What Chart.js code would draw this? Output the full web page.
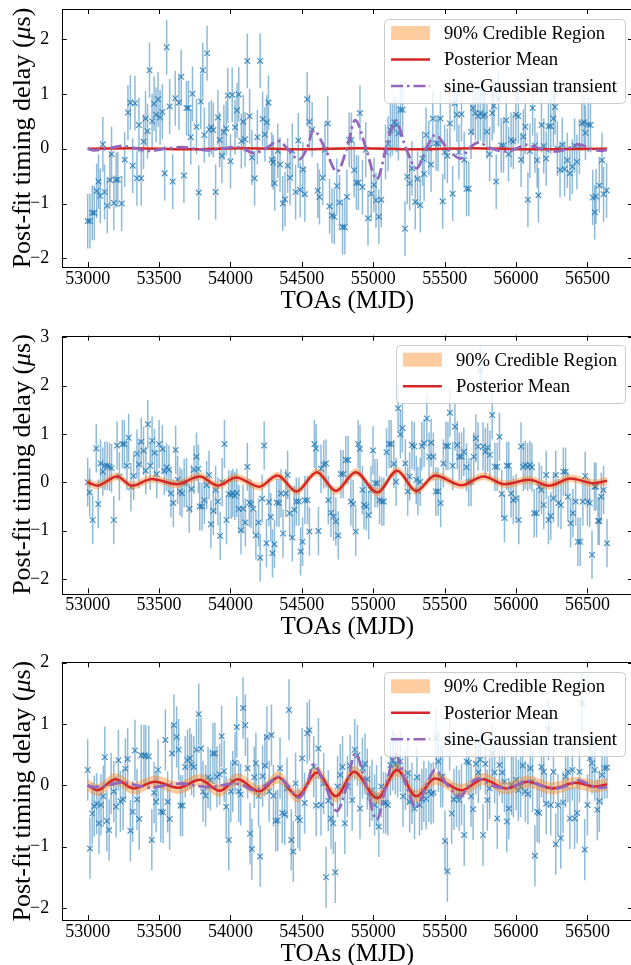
<!DOCTYPE html>
<html>
<head>
<meta charset="utf-8">
<script src="https://cdn.jsdelivr.net/npm/chart.js@4.4.1/dist/chart.umd.min.js"></script>
<style>
  html, body { margin: 0; padding: 0; background: #fff; width: 631px; height: 965px; overflow: hidden; position: relative; }
  canvas { position: absolute; left: 0; }
</style>
</head>
<body>
<canvas id="panel1" width="640" height="320" style="top:0px"></canvas>
<canvas id="panel2" width="640" height="320" style="top:320px"></canvas>
<canvas id="panel3" width="640" height="325" style="top:640px"></canvas>
<script>
// ---- shared axis values ----
const xTicks = [53000, 53500, 54000, 54500, 55000, 55500, 56000, 56500];
const xRange = [52818, 56819];

// sine-Gaussian transient (same injected curve in panels 1 and 3)
const sgToa = [53000, 53044, 53140, 53240, 53340, 53437, 53545, 53657, 53750, 53843, 53935, 54028, 54090, 54160,
  54245, 54335, 54400, 54478, 54535, 54581, 54663, 54745, 54815, 54873, 54950, 55024, 55090, 55155, 55230, 55304,
  55370, 55433, 55520, 55610, 55670, 55734, 55830, 55931, 56000, 56069, 56170, 56278, 56360, 56440, 56520, 56600, 56637];
const sgDelay = [0.0, -0.03, 0.0, 0.05, 0.0, -0.04, 0.0, 0.03, 0.0, -0.03, 0.0, 0.03, 0.0, -0.08,
  0.0, 0.14, 0.0, -0.2, 0.0, 0.34, 0.0, -0.42, 0.0, 0.52, 0.0, -0.56, 0.0, 0.51, 0.0, -0.36,
  0.0, 0.25, 0.0, -0.18, 0.0, 0.11, 0.0, -0.05, 0.0, 0.07, 0.0, -0.05, 0.0, 0.08, 0.0, -0.04, -0.02];

// ---- panel 1 ----
const toaP1 = [53000, 53016, 53032, 53046, 53063, 53076, 53088, 53106, 53118, 53137, 53155, 53167, 53183, 53199, 53211,
  53238, 53259, 53282, 53299, 53315, 53331, 53345, 53359, 53375, 53391, 53405, 53419, 53433, 53451, 53465, 53479,
  53493, 53507, 53523, 53539, 53553, 53574, 53595, 53613, 53639, 53655, 53674, 53692, 53706, 53722, 53734, 53762,
  53778, 53792, 53806, 53817, 53836, 53850, 53866, 53880, 53896, 53912, 53924, 53940, 53954, 53970, 53981, 54000,
  54012, 54032, 54046, 54058, 54076, 54090, 54102, 54118, 54134, 54150, 54169, 54188, 54208, 54225, 54241, 54255,
  54266, 54289, 54299, 54310, 54331, 54347, 54366, 54382, 54400, 54417, 54433, 54456, 54475, 54488, 54507, 54521,
  54537, 54553, 54572, 54611, 54623, 54646, 54662, 54681, 54694, 54711, 54727, 54745, 54764, 54785, 54801, 54815,
  54831, 54847, 54866, 54882, 54896, 54907, 54924, 54947, 54963, 54986, 55005, 55019, 55039, 55056, 55086, 55104,
  55120, 55134, 55148, 55162, 55176, 55190, 55206, 55222, 55238, 55255, 55271, 55294, 55310, 55329, 55345, 55356,
  55370, 55389, 55405, 55417, 55440, 55454, 55470, 55486, 55500, 55519, 55537, 55556, 55569, 55586, 55600, 55618,
  55637, 55653, 55669, 55685, 55699, 55715, 55734, 55750, 55769, 55780, 55796, 55815, 55833, 55845, 55861, 55877,
  55896, 55912, 55931, 55947, 55965, 55981, 55998, 56016, 56035, 56051, 56065, 56083, 56097, 56116, 56132, 56148,
  56157, 56178, 56194, 56211, 56227, 56243, 56262, 56273, 56289, 56308, 56324, 56340, 56359, 56377, 56394, 56410,
  56426, 56444, 56461, 56477, 56486, 56505, 56521, 56537, 56551, 56560, 56583, 56602, 56613, 56634];
const resP1 = [-1.32, -1.32, -1.17, -1.17, -0.77, -0.6, -0.86, 0.08, -0.79, -1.04, -0.57, -0.1, -0.99, -0.57, -0.56,
  -1.0, -0.2, 0.66, 0.84, -0.31, 0.83, -0.54, 0.43, -0.54, 0.13, 0.55, 0.32, 1.43, 0.5, 0.82, 0.62,
  0.9, 0.57, 0.67, -0.45, 1.85, 0.77, -0.6, 0.92, 0.84, 1.31, -0.49, 0.74, 0.74, 0.21, 1.0, 0.4,
  -0.8, 0.86, 1.43, 0.25, 1.74, 0.35, 0.39, 0.34, -0.79, 0.57, 0.16, -0.13, 0.3, 0.37, 0.97, -0.23,
  0.98, 0.39, 0.7, 0.99, 0.14, 0.49, 0.17, 1.6, 0.59, -0.16, -0.54, 0.21, 1.6, 0.54, 0.26, 0.48,
  0.84, -0.2, -0.25, -0.63, -0.04, -0.29, -1.0, -0.92, -0.31, -0.53, -0.04, -0.79, 0.15, -0.75, -0.38, -0.83,
  0.9, 0.49, 0.35, -0.76, -0.88, -0.53, -0.02, 0.46, -1.05, -1.22, -1.24, -0.68, -0.98, -1.43, -1.43, -0.88,
  0.16, 0.16, -0.39, -0.62, -0.62, 0.65, -0.7, -0.02, -1.27, -0.82, -0.66, -0.94, -1.24, -0.93, -0.06, 0.09,
  0.34, 0.38, 0.48, 0.43, 0.28, 0.71, 0.71, -1.46, -0.51, -0.63, -0.36, -0.97, -0.55, -1.03, -0.18, -0.46,
  0.25, 0.01, -0.29, 0.55, 0.1, 0.09, 0.55, -0.96, -0.06, -0.13, 0.46, -0.82, 0.83, 0.62, -0.06, 0.63,
  -0.2, -0.73, -0.73, 0.31, 0.74, 0.65, 0.59, 0.65, 0.59, 0.62, 0.31, -0.1, 0.65, 0.78, -0.6, 0.91,
  0.06, 0.06, 0.52, -0.1, 0.16, 0.13, 0.62, 0.59, -0.2, 0.22, 0.4, -0.93, -0.04, 0.74, 0.06, -0.21,
  -0.85, 0.43, 0.05, -0.18, 0.41, 0.41, 0.55, 0.76, 0.0, -0.39, 0.07, -0.37, -0.21, -0.45, -0.33, 0.05,
  -0.24, 0.04, 0.46, 0.48, 0.29, 0.44, 0.43, -0.89, -1.16, -0.87, -0.67, -0.21, -0.83, -0.76];
const errP1 = 0.5;
const meanToaP1 = [53000, 53300, 53700, 54100, 54500, 54900, 55300, 55700, 56100, 56637];
const meanP1 = [0.0, 0.01, -0.01, 0.01, -0.01, 0.01, -0.01, 0.01, -0.01, 0.0];
const bandP1 = 0.02;
const yTicksP1 = [-2, -1, 0, 1, 2];
const yRangeP1 = [-2.157, 2.547];

// ---- panel 2 ----
const toaP2 = [53000, 53014, 53035, 53060, 53074, 53090, 53106, 53120, 53137, 53153, 53167, 53183, 53206, 53222, 53243,
  53257, 53275, 53287, 53303, 53322, 53345, 53359, 53375, 53391, 53407, 53421, 53438, 53451, 53468, 53484, 53500,
  53523, 53537, 53553, 53569, 53583, 53600, 53616, 53630, 53646, 53660, 53676, 53692, 53711, 53727, 53745, 53762,
  53775, 53785, 53801, 53817, 53833, 53850, 53863, 53880, 53896, 53912, 53928, 53942, 53958, 53972, 53988, 54005,
  54016, 54030, 54044, 54058, 54074, 54088, 54104, 54118, 54132, 54144, 54160, 54178, 54197, 54208, 54222, 54236,
  54252, 54269, 54282, 54294, 54308, 54324, 54340, 54354, 54368, 54387, 54400, 54414, 54433, 54447, 54461, 54479,
  54491, 54505, 54521, 54539, 54553, 54588, 54600, 54616, 54634, 54653, 54669, 54685, 54704, 54722, 54738, 54755,
  54773, 54789, 54808, 54824, 54843, 54859, 54877, 54894, 54907, 54924, 54935, 54951, 54968, 54984, 54998, 55012,
  55028, 55044, 55060, 55074, 55093, 55111, 55125, 55144, 55160, 55174, 55190, 55204, 55225, 55241, 55255, 55271,
  55287, 55301, 55313, 55329, 55340, 55356, 55375, 55391, 55405, 55421, 55438, 55454, 55472, 55491, 55509, 55523,
  55537, 55556, 55572, 55588, 55602, 55618, 55634, 55653, 55669, 55685, 55704, 55718, 55734, 55750, 55769, 55785,
  55801, 55817, 55833, 55852, 55868, 55884, 55900, 55919, 55935, 55949, 55965, 55981, 56000, 56019, 56035, 56051,
  56065, 56081, 56097, 56111, 56127, 56144, 56162, 56178, 56194, 56211, 56227, 56243, 56262, 56278, 56296, 56315,
  56331, 56347, 56363, 56382, 56398, 56417, 56433, 56449, 56468, 56484, 56500, 56516, 56532, 56549, 56560, 56574,
  56583, 56597, 56613, 56637];
const resP2 = [0.0, -0.21, -0.78, 0.7, -0.45, 0.39, 0.22, 0.34, 0.34, 0.32, 0.29, -0.78, 0.76, 0.12, 0.79,
  0.79, 0.34, 0.92, -0.1, 0.13, 0.59, 0.37, 0.84, 0.65, 0.24, 1.2, 0.34, 0.86, 0.61, 0.17, 0.79,
  0.69, 0.23, 0.31, 0.26, -0.23, -0.43, 0.67, 0.05, -0.19, -0.23, -0.02, 0.0, -0.55, -0.14, 0.26, 0.53,
  0.28, -0.5, -0.5, -0.37, -0.06, 0.15, -0.87, -0.59, -0.16, -0.4, -1.11, 0.0, 0.79, -0.78, -0.24, -0.26,
  -0.22, -0.28, -0.22, -0.55, -0.99, -0.55, -0.83, 0.32, -0.42, -0.45, -0.55, -1.1, -0.83, -1.56, -0.34, 0.76,
  -1.26, -0.41, -0.72, -1.47, -1.28, -0.42, -0.43, -0.23, -1.06, -0.23, 0.15, -0.64, -1.14, -0.57, -0.4, -0.4,
  -1.43, -1.23, -0.37, -0.37, -1.02, 0.79, 0.7, -1.01, 0.28, 0.37, 0.39, -0.37, -0.63, -0.71, -0.81, -1.1,
  0.17, 0.17, 0.46, 0.46, -0.4, -0.45, -1.02, 0.79, 0.69, -0.16, -0.47, -0.5, -0.68, -0.16, 0.66, -0.02,
  -0.02, -0.37, -0.4, -0.4, 0.62, 0.79, 0.79, 0.38, 0.01, 1.53, 0.99, 1.12, 0.39, -0.19, 0.12, 0.77,
  0.74, 0.05, -0.18, 0.01, 0.75, 0.81, 1.32, 0.53, 0.82, 0.53, -0.19, -0.19, -0.43, 0.39, 0.75, 0.75,
  1.44, 0.34, 1.15, 0.77, 0.53, 0.53, 0.63, 0.31, 0.0, 0.01, 0.53, 0.91, 0.74, 2.32, 0.74, 0.63,
  0.72, 0.57, 1.39, 0.32, 0.32, 0.94, -0.24, -0.74, 0.34, 0.34, -0.23, -0.37, -0.33, -0.78, 0.74, 0.32,
  0.36, 0.32, 0.36, 0.31, -0.64, -0.64, -0.09, -0.16, -0.47, 0.15, -0.78, -0.7, -0.33, 0.15, -0.43, -0.47,
  0.22, 0.22, -0.3, -0.85, -0.64, -0.4, -1.23, -1.23, -0.4, 0.13, -0.4, -0.43, -1.5, -0.09, -0.09, -0.8,
  -0.8, -0.3, -0.16, -1.26];
const errP2 = 0.5;
const meanToaP2 = [53000, 53067, 53206, 53310, 53449, 53623, 53785, 53912, 54039, 54201, 54329, 54463, 54605, 54738,
  54877, 55028, 55167, 55301, 55433, 55618, 55773, 55919, 56093, 56231, 56382, 56544, 56637];
const meanP2 = [0.0, -0.07, 0.12, -0.07, 0.07, -0.04, 0.12, -0.07, 0.1, -0.09, 0.14, -0.19, 0.21, -0.18,
  0.21, -0.21, 0.24, -0.18, 0.14, -0.06, 0.12, -0.04, 0.05, -0.07, 0.08, -0.02, 0.03];
const bandP2 = 0.08;
const yTicksP2 = [-2, -1, 0, 1, 2, 3];
const yRangeP2 = [-2.297, 3.033];

// ---- panel 3 ----
const toaP3 = [53000, 53016, 53032, 53046, 53063, 53079, 53093, 53109, 53120, 53134, 53150, 53164, 53183, 53199, 53215,
  53229, 53248, 53264, 53280, 53299, 53315, 53331, 53345, 53361, 53375, 53394, 53407, 53428, 53449, 53465, 53479,
  53493, 53512, 53528, 53544, 53560, 53574, 53590, 53604, 53623, 53637, 53650, 53664, 53683, 53699, 53715, 53727,
  53743, 53762, 53778, 53794, 53808, 53826, 53843, 53859, 53877, 53891, 53905, 53924, 53938, 53956, 53970, 53988,
  54002, 54016, 54032, 54044, 54058, 54072, 54088, 54104, 54120, 54137, 54150, 54167, 54178, 54197, 54208, 54225,
  54241, 54255, 54271, 54287, 54301, 54317, 54331, 54347, 54363, 54380, 54396, 54410, 54426, 54440, 54456, 54472,
  54486, 54502, 54519, 54537, 54553, 54583, 54600, 54616, 54634, 54653, 54669, 54685, 54704, 54720, 54734, 54750,
  54769, 54785, 54801, 54819, 54838, 54852, 54870, 54889, 54907, 54924, 54942, 54958, 54975, 54991, 55009, 55023,
  55039, 55056, 55072, 55088, 55102, 55120, 55137, 55155, 55171, 55190, 55208, 55225, 55241, 55255, 55271, 55289,
  55306, 55324, 55340, 55354, 55370, 55389, 55405, 55421, 55440, 55456, 55472, 55486, 55502, 55519, 55535, 55549,
  55565, 55583, 55602, 55618, 55637, 55653, 55669, 55685, 55699, 55718, 55736, 55750, 55769, 55785, 55799, 55815,
  55833, 55850, 55868, 55884, 55903, 55919, 55935, 55949, 55968, 55981, 56000, 56016, 56032, 56046, 56065, 56083,
  56100, 56116, 56132, 56148, 56162, 56178, 56194, 56211, 56227, 56243, 56262, 56278, 56294, 56313, 56329, 56347,
  56363, 56377, 56394, 56410, 56428, 56444, 56463, 56481, 56500, 56516, 56532, 56551, 56569, 56583, 56602, 56620,
  56637];
const resP3 = [0.25, -1.03, -0.46, -0.34, -0.3, -0.62, -0.32, -0.18, 0.46, -0.58, -0.73, 0.03, -0.1, -0.35, 0.41,
  -0.26, -0.23, 0.27, 0.43, -0.74, -0.43, 0.57, -0.23, -0.55, 0.49, 0.49, 0.48, 0.47, -0.89, -0.12, -0.27,
  0.25, -0.43, -0.44, 0.74, -0.27, -0.55, 0.52, 0.98, 0.79, 0.58, -0.33, -0.33, 0.3, 0.41, 0.44, 0.34,
  0.3, 0.58, 1.16, 0.6, -0.1, -0.17, 0.13, 0.09, 0.52, 0.52, 0.14, 0.18, 0.8, 0.23, -0.35, -0.89,
  -0.1, 0.06, 0.37, 0.95, -0.1, -0.15, 1.26, 0.98, 0.28, -0.79, -1.04, 0.13, 0.36, -0.17, -1.16, 0.15,
  0.32, 0.79, -0.1, 0.82, -0.17, -0.58, -0.57, 0.28, -0.45, -0.47, -0.05, 1.23, -0.89, -1.08, 0.03, -0.53,
  -0.57, 0.44, -0.29, 0.85, 0.9, 0.3, -0.33, 0.6, -0.32, 0.03, -1.5, -0.25, -0.54, -0.62, -1.42, -0.02,
  0.17, 0.3, -0.62, -0.02, 0.32, -0.24, 0.58, 0.49, -0.38, 0.28, 0.35, 0.1, -0.18, -0.08, -0.32, -0.17,
  -0.67, -0.02, -0.28, -0.29, -0.32, 0.33, 0.41, 0.35, 0.3, 0.39, -0.18, 0.1, 0.2, -0.27, -0.13, -0.38,
  0.13, -0.32, -0.23, -0.1, -0.22, -0.1, -0.14, -0.12, 0.77, 0.39, 0.14, 0.14, -0.91, -1.4, 0.74, -0.46,
  -0.23, -0.18, -0.24, -0.15, -0.81, 0.39, 0.37, -0.18, -0.39, 0.35, 0.21, 0.42, -0.81, 0.35, -0.24, -0.05,
  0.52, 0.21, -0.54, 0.33, 0.21, 0.06, -0.59, -0.38, 0.01, -0.02, 0.09, -0.08, -0.02, 0.32, -0.1, -0.14,
  0.28, 0.06, -1.15, -0.43, -0.45, 0.3, 0.22, -0.3, 0.91, -0.32, 0.22, -0.96, -0.32, -0.86, -0.28, 0.14,
  0.22, -0.54, 0.25, -0.54, -0.45, 0.22, 1.34, -1.05, -0.32, 0.44, 0.36, 0.25, -0.4, -0.26, 0.17, 0.28,
  0.29];
const errP3 = 0.5;
const meanToaP3 = [53000, 53067, 53194, 53322, 53472, 53634, 53785, 53924, 54051, 54201, 54336, 54468, 54606, 54738,
  54866, 55028, 55167, 55301, 55433, 55618, 55769, 55931, 56081, 56255, 56417, 56556, 56637];
const meanP3 = [0.0, -0.08, 0.1, -0.05, 0.06, -0.04, 0.09, -0.09, 0.1, -0.1, 0.13, -0.18, 0.21, -0.18,
  0.22, -0.21, 0.25, -0.18, 0.11, -0.08, 0.1, -0.05, 0.06, -0.05, 0.04, -0.02, 0.02];
const bandP3 = 0.1;
const yTicksP3 = [-2, -1, 0, 1, 2];
const yRangeP3 = [-2.197, 2.007];

// colours (matplotlib tab10)
const BLUE = 'rgba(31, 119, 180, 0.5)';
const BLUE_MARK = 'rgba(31, 119, 180, 0.8)';
const RED = '#d62728';
const ORANGE = 'rgba(255, 127, 14, 0.4)';
const PURPLE = '#9467bd';
const SERIF = '"Liberation Serif", "Times New Roman", serif';

const pts = (xs, ys, shift) => xs.map((t, i) => ({ x: t, y: ys[i] + (shift || 0) }));

// error bars, frame with inward ticks, axis titles and the boxed legend
const decorPlugin = {
  id: 'decor',
  beforeDatasetsDraw(chart, args, opts) {
    const ctx = chart.ctx, a = chart.chartArea;
    const xs = chart.scales.x, ys = chart.scales.y;
    ctx.save();
    ctx.beginPath();
    ctx.rect(a.left, a.top, a.right - a.left, a.bottom - a.top);
    ctx.clip();
    ctx.strokeStyle = BLUE;
    ctx.lineWidth = 1.5;
    opts.toa.forEach((t, i) => {
      const px = xs.getPixelForValue(t);
      ctx.beginPath();
      ctx.moveTo(px, ys.getPixelForValue(opts.res[i] - opts.err));
      ctx.lineTo(px, ys.getPixelForValue(opts.res[i] + opts.err));
      ctx.stroke();
    });
    ctx.restore();
  },
  afterDraw(chart, args, opts) {
    const ctx = chart.ctx, a = chart.chartArea;
    const xs = chart.scales.x, ys = chart.scales.y;
    ctx.save();
    // frame
    ctx.strokeStyle = '#000';
    ctx.lineWidth = 1;
    ctx.strokeRect(Math.round(a.left) + 0.5, Math.round(a.top) + 0.5,
      Math.round(a.right - a.left), Math.round(a.bottom - a.top));
    // inward ticks on all four sides
    const tl = 5;
    ctx.beginPath();
    xs.ticks.forEach(t => {
      const px = Math.round(xs.getPixelForValue(t.value)) + 0.5;
      ctx.moveTo(px, a.bottom); ctx.lineTo(px, a.bottom - tl);
      ctx.moveTo(px, a.top); ctx.lineTo(px, a.top + tl);
    });
    ys.ticks.forEach(t => {
      const py = Math.round(ys.getPixelForValue(t.value)) + 0.5;
      ctx.moveTo(a.left, py); ctx.lineTo(a.left + tl, py);
      ctx.moveTo(a.right, py); ctx.lineTo(a.right - tl, py);
    });
    ctx.stroke();

    // x title
    ctx.fillStyle = '#000';
    ctx.font = '25px ' + SERIF;
    ctx.textAlign = 'center';
    ctx.textBaseline = 'alphabetic';
    ctx.fillText('TOAs (MJD)', (a.left + a.right) / 2, a.bottom + 40.5);

    // y title, with italic mu
    const parts = [['Post-fit timing delay (', ''], ['\u03bc', 'italic '], ['s)', '']];
    let total = 0;
    parts.forEach(p => { ctx.font = p[1] + '26px ' + SERIF; total += ctx.measureText(p[0]).width; });
    ctx.translate(30, (a.top + a.bottom) / 2);
    ctx.rotate(-Math.PI / 2);
    ctx.textAlign = 'left';
    let cx = -total / 2;
    parts.forEach(p => {
      ctx.font = p[1] + '26px ' + SERIF;
      ctx.fillText(p[0], cx, 0);
      cx += ctx.measureText(p[0]).width;
    });
    ctx.restore();

    // legend box, top right inside the axes
    const items = opts.legend;
    ctx.save();
    ctx.font = '18.6px ' + SERIF;
    const textW = Math.max(...items.map(it => ctx.measureText(it.label).width));
    const boxW = 7 + 39 + 14 + textW + 8;
    const boxH = items.length * 26.5 + 4.5;
    const bx = a.right - 8 - boxW, by = a.top + 9.5;
    ctx.fillStyle = 'rgba(255, 255, 255, 0.8)';
    ctx.strokeStyle = '#cccccc';
    ctx.lineWidth = 1;
    ctx.beginPath();
    ctx.roundRect(Math.round(bx) + 0.5, Math.round(by) + 0.5, Math.round(boxW), Math.round(boxH), 4);
    ctx.fill();
    ctx.stroke();
    items.forEach((it, i) => {
      const cy = by + 14.5 + 26.5 * i;
      const hx = bx + 7;
      if (it.kind === 'patch') {
        ctx.fillStyle = ORANGE;
        ctx.fillRect(hx, cy - 7, 39, 14);
      } else {
        ctx.strokeStyle = it.color;
        ctx.lineWidth = 2.5;
        ctx.setLineDash(it.dash || []);
        ctx.beginPath();
        ctx.moveTo(hx, cy); ctx.lineTo(hx + 39, cy);
        ctx.stroke();
        ctx.setLineDash([]);
      }
      ctx.fillStyle = '#000';
      ctx.textAlign = 'left';
      ctx.textBaseline = 'middle';
      ctx.fillText(it.label, hx + 39 + 14, cy + 1);
    });
    ctx.restore();
  }
};

function makePanel(id, p) {
  const canvas = document.getElementById(id);
  const datasets = [];
  const legend = [{ kind: 'patch', label: '90% Credible Region' },
                  { kind: 'line', label: 'Posterior Mean', color: RED }];
  if (p.showSg) {
    datasets.push({
      label: 'sine-Gaussian transient',
      data: pts(sgToa, sgDelay),
      borderColor: PURPLE, borderWidth: 2.8, borderDash: [12, 4, 2.5, 4],
      pointRadius: 0, fill: false, cubicInterpolationMode: 'monotone'
    });
    legend.push({ kind: 'line', label: 'sine-Gaussian transient', color: PURPLE, dash: [12, 4, 2.5, 4] });
  }
  datasets.push({
    label: 'Posterior Mean',
    data: pts(p.meanToa, p.mean),
    borderColor: RED, borderWidth: 2.5,
    pointRadius: 0, fill: false, cubicInterpolationMode: 'monotone'
  });
  datasets.push({
    label: 'upper',
    data: pts(p.meanToa, p.mean, p.band),
    borderColor: 'transparent', borderWidth: 0, pointRadius: 0,
    backgroundColor: ORANGE, fill: '+1', cubicInterpolationMode: 'monotone'
  });
  datasets.push({
    label: 'lower',
    data: pts(p.meanToa, p.mean, -p.band),
    borderColor: 'transparent', borderWidth: 0, pointRadius: 0,
    fill: false, cubicInterpolationMode: 'monotone'
  });
  datasets.push({
    label: 'TOAs',
    data: pts(p.toa, p.res),
    showLine: false,
    pointStyle: 'crossRot', pointRadius: 4, borderWidth: 1.2,
    borderColor: BLUE_MARK, backgroundColor: BLUE_MARK
  });

  return new Chart(canvas, {
    type: 'line',
    data: { datasets },
    plugins: [decorPlugin],
    options: {
      responsive: false,
      animation: false,
      devicePixelRatio: 1,
      events: [],
      layout: { padding: { top: p.plotTop, right: canvas.width - 633, left: 0, bottom: 0 } },
      plugins: {
        legend: { display: false },
        tooltip: { enabled: false },
        decor: { toa: p.toa, res: p.res, err: p.err, legend }
      },
      scales: {
        x: {
          type: 'linear',
          min: xRange[0], max: xRange[1],
          grid: { display: false },
          border: { display: false },
          afterBuildTicks: s => { s.ticks = xTicks.map(v => ({ value: v })); },
          afterFit: s => {
            s.height = canvas.height - p.plotBottom;
            s.paddingLeft = 0; s.paddingRight = 0;
          },
          ticks: {
            color: '#000', padding: -7, maxRotation: 0, autoSkip: false,
            font: { family: SERIF, size: 18 },
            callback: v => String(v)
          }
        },
        y: {
          type: 'linear',
          min: p.yRange[0], max: p.yRange[1],
          grid: { display: false },
          border: { display: false },
          afterBuildTicks: s => { s.ticks = p.yTicks.map(v => ({ value: v })); },
          afterFit: s => {
            s.width = 61.7;
            s.paddingTop = 0; s.paddingBottom = 0;
          },
          ticks: {
            color: '#000', padding: 4.5,
            font: { family: SERIF, size: 18 },
            callback: v => (v < 0 ? '\u2212' + Math.abs(v) : String(v))
          }
        }
      }
    }
  });
}

makePanel('panel1', { toa: toaP1, res: resP1, err: errP1, meanToa: meanToaP1, mean: meanP1, band: bandP1,
  showSg: true, yTicks: yTicksP1, yRange: yRangeP1, plotTop: 9, plotBottom: 267 });
makePanel('panel2', { toa: toaP2, res: resP2, err: errP2, meanToa: meanToaP2, mean: meanP2, band: bandP2,
  showSg: false, yTicks: yTicksP2, yRange: yRangeP2, plotTop: 15.7, plotBottom: 273.3 });
makePanel('panel3', { toa: toaP3, res: resP3, err: errP3, meanToa: meanToaP3, mean: meanP3, band: bandP3,
  showSg: true, yTicks: yTicksP3, yRange: yRangeP3, plotTop: 22.3, plotBottom: 280 });
</script>
</body>
</html>
